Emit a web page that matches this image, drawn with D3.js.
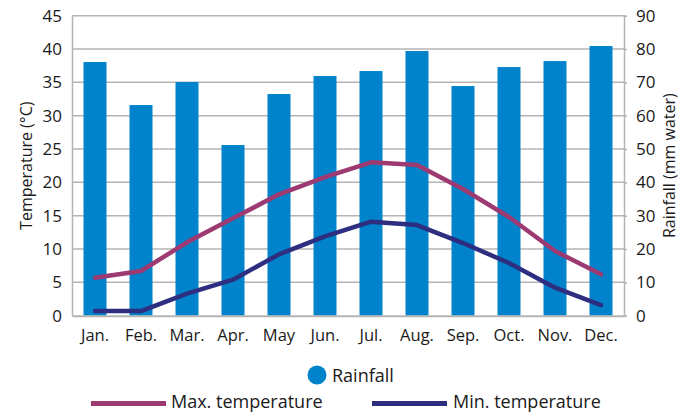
<!DOCTYPE html>
<html>
<head>
<meta charset="utf-8">
<script src="https://cdn.jsdelivr.net/npm/d3@7"></script>
<style>
  html, body { margin: 0; padding: 0; background: #fff; }
  svg { display: block; font-family: "Open Sans", sans-serif; }
</style>
</head>
<body>
<svg id="chart" width="681" height="413"></svg>
<script>
const months = ["Jan.", "Feb.", "Mar.", "Apr.", "May", "Jun.", "Jul.", "Aug.", "Sep.", "Oct.", "Nov.", "Dec."];
const rainfall = [76.1, 63.2, 70.1, 51.2, 66.5, 71.9, 73.4, 79.4, 68.9, 74.6, 76.4, 80.9];
const maxTemp = [5.7, 6.7, 11.0, 14.6, 18.2, 20.8, 23.0, 22.6, 19.0, 14.8, 9.7, 6.2];
const minTemp = [0.7, 0.7, 3.3, 5.4, 9.2, 11.9, 14.1, 13.6, 10.9, 7.9, 4.2, 1.6];
const tempTicks = [0, 5, 10, 15, 20, 25, 30, 35, 40, 45];
const rainTicks = [0, 10, 20, 30, 40, 50, 60, 70, 80, 90];

const colors = { rain: "#0083ca", max: "#9d3a72", min: "#2e2e80", grid: "#b4b4b4", text: "#1a1a1a" };

const svg = d3.select("#chart");
const pL = 72, pR = 624, pT = 15.7, pB = 315.7;

const x = d3.scaleBand().domain(months).range([pL, pR]).paddingInner(0.5).paddingOuter(0.25);
const yT = d3.scaleLinear().domain([0, 45]).range([pB, pT]);
const yR = d3.scaleLinear().domain([0, 90]).range([pB, pT]);

// gridlines
svg.append("g").selectAll("line").data(tempTicks.filter(d => d > 0)).join("line")
  .attr("x1", pL).attr("x2", pR)
  .attr("y1", d => yT(d)).attr("y2", d => yT(d))
  .attr("stroke", colors.grid).attr("stroke-width", 1.5);

// bars
svg.append("g").selectAll("rect").data(rainfall).join("rect")
  .attr("x", (d, i) => x(months[i]))
  .attr("width", x.bandwidth())
  .attr("y", d => yR(d))
  .attr("height", d => pB - yR(d))
  .attr("fill", colors.rain);

// left axis
const axL = svg.append("g").attr("transform", `translate(${pL},0)`)
  .call(d3.axisLeft(yT).tickValues(tempTicks).tickSize(0).tickPadding(10));
axL.select(".domain").attr("stroke", colors.grid).attr("stroke-width", 1.5);
axL.selectAll("text").attr("font-size", 17).attr("fill", colors.text).attr("font-family", "Open Sans");

// right axis
const axR = svg.append("g").attr("transform", `translate(${pR},0)`)
  .call(d3.axisRight(yR).tickValues(rainTicks).tickSize(3).tickPadding(9));
axR.select(".domain").attr("stroke", colors.grid).attr("stroke-width", 1.5);
axR.selectAll(".tick line").attr("stroke", colors.grid).attr("stroke-width", 1.5);
axR.selectAll("text").attr("font-size", 17).attr("fill", colors.text).attr("font-family", "Open Sans");

// bottom axis
const axB = svg.append("g").attr("transform", `translate(0,${pB})`)
  .call(d3.axisBottom(x).tickSize(0).tickPadding(14));
axB.select(".domain").attr("stroke", colors.grid).attr("stroke-width", 2);
axB.selectAll("text").attr("font-size", 16.5).attr("fill", colors.text).attr("font-family", "Open Sans");

// lines
const cx = i => x(months[i]) + x.bandwidth() / 2;
const lineGen = d3.line().x((d, i) => cx(i)).y(d => yT(d));
svg.append("path").datum(maxTemp).attr("d", lineGen)
  .attr("fill", "none").attr("stroke", colors.max).attr("stroke-width", 4.5)
  .attr("stroke-linejoin", "round").attr("stroke-linecap", "round");
svg.append("path").datum(minTemp).attr("d", lineGen)
  .attr("fill", "none").attr("stroke", colors.min).attr("stroke-width", 4.5)
  .attr("stroke-linejoin", "round").attr("stroke-linecap", "round");

// axis titles
svg.append("text").attr("transform", `translate(32,${(pT + pB) / 2}) rotate(-90)`)
  .attr("text-anchor", "middle").attr("font-size", 16).attr("fill", colors.text)
  .text("Temperature (°C)");
svg.append("text").attr("transform", `translate(675,${(pT + pB) / 2}) rotate(-90)`)
  .attr("text-anchor", "middle").attr("font-size", 16).attr("fill", colors.text)
  .text("Rainfall (mm water)");

// legend
const lg = svg.append("g");
lg.append("circle").attr("cx", 317).attr("cy", 375).attr("r", 9.5).attr("fill", colors.rain);
lg.append("text").attr("x", 332).attr("y", 382).attr("font-size", 18).attr("fill", colors.text).text("Rainfall");
lg.append("line").attr("x1", 91).attr("x2", 166).attr("y1", 403.5).attr("y2", 403.5)
  .attr("stroke", colors.max).attr("stroke-width", 5);
lg.append("text").attr("x", 171).attr("y", 407.5).attr("font-size", 18).attr("fill", colors.text).text("Max. temperature");
lg.append("line").attr("x1", 372).attr("x2", 447).attr("y1", 403.5).attr("y2", 403.5)
  .attr("stroke", colors.min).attr("stroke-width", 5);
lg.append("text").attr("x", 453).attr("y", 407.5).attr("font-size", 18).attr("fill", colors.text).text("Min. temperature");
</script>
</body>
</html>
